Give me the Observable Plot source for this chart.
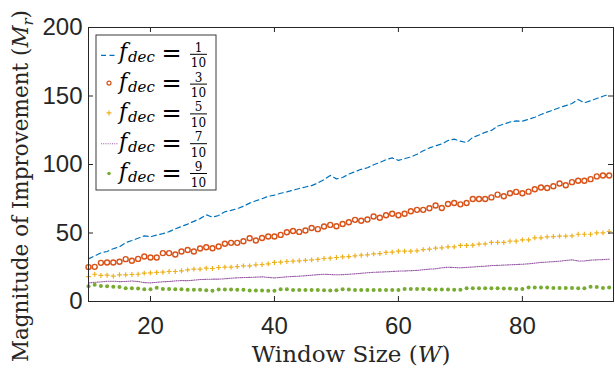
<!DOCTYPE html>
<html><head><meta charset="utf-8">
<script src="https://cdn.jsdelivr.net/npm/d3@7"></script>
<script src="https://cdn.jsdelivr.net/npm/@observablehq/plot@0.6"></script>
<style>body{margin:0;background:#fff} svg{display:block}
.serif{font-family:"DejaVu Serif","Liberation Serif",serif !important}
</style>
</head><body><div id="chart"></div>
<script>
// Window sizes (x)
const windowSize = [10,11,12,13,14,15,16,17,18,19,20,21,22,23,24,25,26,27,28,29,30,31,32,33,34,35,36,37,38,39,40,41,42,43,44,45,46,47,48,49,50,51,52,53,54,55,56,57,58,59,60,61,62,63,64,65,66,67,68,69,70,71,72,73,74,75,76,77,78,79,80,81,82,83,84,85,86,87,88,89,90,91,92,93,94];

// Magnitude of improvement, one array per f_dec
const fdec1 = [31.1,33.3,35.5,36.5,38.5,40.0,43.0,44.5,46.2,47.9,47.2,48.5,49.5,51.0,53.0,54.8,56.5,58.5,60.5,63.3,61.5,62.8,65.5,66.5,67.8,69.5,71.8,73.5,75.0,76.8,77.6,79.0,80.0,81.2,82.5,83.6,84.6,86.5,89.0,92.0,89.5,90.5,93.0,94.8,96.5,97.6,99.8,101.5,103.5,104.8,103.0,104.3,105.5,107.5,110.0,112.1,113.6,115.0,117.5,118.5,117.0,116.0,119.8,121.5,123.5,124.8,128.0,129.5,131.0,131.8,131.6,133.0,134.5,136.5,138.2,139.8,141.5,143.0,144.5,147.5,145.0,146.5,148.2,149.8,151.3];
const fdec3 = [25.1,25.3,28.2,28.5,28.5,29.0,30.9,29.7,31.1,32.8,32.1,32.1,35.3,35.3,34.3,36.5,37.6,36.5,38.7,39.6,38.9,40.1,42.1,42.8,42.8,44.0,46.2,44.5,46.3,47.4,47.4,48.6,50.6,51.5,50.8,51.8,53.7,52.8,54.7,55.9,54.9,56.6,57.9,59.6,58.9,59.8,62.0,61.1,63.0,64.0,63.0,64.0,65.9,66.9,66.9,68.1,70.1,68.2,71.2,71.9,70.9,71.9,74.8,74.8,74.8,76.0,78.0,76.8,79.0,80.0,79.0,80.2,81.9,83.2,82.9,84.1,86.1,84.9,87.1,88.1,88.1,89.3,91.3,92.0,92.0];
const fdec5 = [18.2,19.9,19.0,19.2,18.5,19.5,19.5,19.7,19.9,20.7,20.9,21.2,21.4,21.9,21.9,22.4,23.1,23.6,23.6,24.3,24.1,24.8,25.1,25.1,25.5,26.0,26.0,26.8,27.0,27.5,28.5,28.7,29.2,29.4,29.7,30.0,30.4,30.7,31.4,31.6,32.1,32.6,32.8,33.3,33.8,34.1,34.8,35.0,35.8,36.0,36.7,36.7,36.7,37.0,37.9,38.2,39.0,39.2,39.9,39.9,40.9,40.9,41.1,41.9,42.1,43.1,43.1,43.1,44.0,44.0,45.0,45.0,46.5,46.5,47.2,47.4,47.7,47.7,47.9,49.1,49.1,49.1,50.1,50.1,51.1];
const fdec7 = [13.5,14.0,14.3,14.8,14.8,14.5,14.6,15.0,14.6,13.8,13.6,14.0,14.4,14.6,15.0,15.3,15.2,15.6,16.0,16.2,16.3,16.3,16.6,17.0,17.3,17.5,17.6,17.8,18.0,17.6,17.2,17.6,18.0,18.3,18.5,18.8,19.2,19.6,19.9,19.7,19.5,19.6,19.9,20.2,20.6,21.0,21.3,21.5,21.7,21.9,22.2,22.3,22.5,22.7,23.2,23.6,23.9,24.6,25.0,24.8,24.6,24.9,25.2,25.5,25.8,26.2,26.4,26.6,26.8,27.0,27.2,27.5,28.0,28.5,28.8,29.1,29.4,30.0,30.4,29.6,29.6,30.2,30.4,30.6,30.9];
const fdec9 = [11.2,12.2,11.4,11.2,10.7,10.5,9.7,9.7,9.5,9.0,9.0,10.0,9.2,9.2,9.0,9.0,8.5,8.5,8.5,8.3,7.8,8.8,8.8,8.8,8.5,8.5,8.0,8.0,8.0,7.8,7.8,8.9,8.9,8.4,8.4,8.4,8.4,8.4,8.2,8.0,8.2,8.9,8.7,8.4,8.4,8.4,8.4,8.4,8.4,8.4,8.4,9.1,9.1,9.1,9.1,8.9,8.7,8.8,8.8,8.5,8.5,9.7,9.7,9.7,9.7,9.7,9.7,9.5,9.5,9.2,9.2,10.2,10.2,10.2,10.2,9.9,9.9,9.9,9.9,9.7,9.7,10.7,10.5,9.9,10.2];

const xTicks = [20, 40, 60, 80];
const yTicks = [0, 50, 100, 150, 200];
const legendNumerators = ["1", "3", "5", "7", "9"];
const legendDenominator = "10";

const toRows = arr => windowSize.map((w, i) => ({w, v: arr[i]}));
const s1 = toRows(fdec1), s3 = toRows(fdec3), s5 = toRows(fdec5), s7 = toRows(fdec7), s9 = toRows(fdec9);

const C = {blue: "#0072BD", orange: "#D95319", yellow: "#EDB120", purple: "#7E2F8E", green: "#77AC30", axis: "#262626"};

const chart = Plot.plot({
  width: 615, height: 375,
  marginLeft: 88, marginRight: 2, marginTop: 27, marginBottom: 74,
  style: {fontFamily: "'Liberation Sans', Arial, sans-serif", fontSize: "24px", color: C.axis, background: "white", overflow: "visible"},
  x: {domain: [10, 94.7]},
  y: {domain: [0, 200]},
  marks: [
    Plot.axisX(xTicks, {tickSize: 0, tickPadding: 15, label: null, fontSize: 24}),
    Plot.axisY(yTicks, {tickSize: 0, tickPadding: 6, label: null, fontSize: 24}),
    Plot.line(s1, {x: "w", y: "v", stroke: C.blue, strokeWidth: 1.2, strokeDasharray: "5,3.5"}),
    Plot.dot(s3, {x: "w", y: "v", r: 2.5, stroke: C.orange, strokeWidth: 1.4, fill: "none"}),
    Plot.dot(s5, {x: "w", y: "v", r: 1.7, symbol: "plus", stroke: C.yellow, strokeWidth: 1.2}),
    Plot.line(s7, {x: "w", y: "v", stroke: C.purple, strokeWidth: 1.1, strokeOpacity: 0.8, strokeDasharray: "1,1.2"}),
    Plot.dot(s9, {x: "w", y: "v", r: 2, fill: C.green, stroke: "none"}),
    Plot.tickX(xTicks, {x: d => d, insetTop: 269, stroke: C.axis}),
    Plot.tickX(xTicks, {x: d => d, insetBottom: 269, stroke: C.axis}),
    Plot.tickY(yTicks, {y: d => d, insetRight: 520, stroke: C.axis}),
    Plot.tickY(yTicks, {y: d => d, insetLeft: 520, stroke: C.axis}),
    Plot.frame({stroke: C.axis, strokeWidth: 1})
  ]
});
document.getElementById("chart").append(chart);

const svg = d3.select(chart);

// x label
const xl = svg.append("text").attr("class", "serif").attr("x", 351).attr("y", 362).attr("text-anchor", "middle")
  .style("font-size", "23px").attr("fill", C.axis);
xl.append("tspan").text("Window Size (");
xl.append("tspan").style("font-style", "italic").text("W");
xl.append("tspan").text(")");

// y label
const yl = svg.append("text").attr("class", "serif").attr("transform", "translate(28,186) rotate(-90)").attr("text-anchor", "middle")
  .style("font-size", "21.5px").attr("fill", C.axis);
yl.append("tspan").text("Magnitude of Improvement (");
yl.append("tspan").style("font-style", "italic").text("M");
yl.append("tspan").style("font-style", "italic").style("font-size", "15px").attr("dy", 5).text("r");
yl.append("tspan").attr("dy", -5).text(")");

// legend
const lg = svg.append("g");
lg.append("rect").attr("x", 96).attr("y", 35).attr("width", 120).attr("height", 155)
  .attr("fill", "white").attr("stroke", "#3a3a3a").attr("stroke-width", 1);
const colors = [C.blue, C.orange, C.yellow, C.purple, C.green];
legendNumerators.forEach((num, i) => {
  const by = 54.3 + i * 29.8;
  const g = lg.append("g");
  if (i === 0) {
    g.append("line").attr("x1", 101).attr("x2", 116).attr("y1", by + 1).attr("y2", by + 1)
      .attr("stroke", colors[i]).attr("stroke-width", 1.2).attr("stroke-dasharray", "5,3.5");
  } else if (i === 1) {
    g.append("circle").attr("cx", 109).attr("cy", by - 1).attr("r", 2).attr("fill", "none")
      .attr("stroke", colors[i]).attr("stroke-width", 1.2);
  } else if (i === 2) {
    g.append("path").attr("d", `M106.5,${by - 1}h5M109,${by - 3.5}v5`).attr("stroke", colors[i]).attr("stroke-width", 1.2);
  } else if (i === 3) {
    g.append("line").attr("x1", 101).attr("x2", 118).attr("y1", by).attr("y2", by)
      .attr("stroke", colors[i]).attr("stroke-width", 1.1).attr("stroke-opacity", 0.8).attr("stroke-dasharray", "1,1.2");
  } else {
    g.append("circle").attr("cx", 109).attr("cy", by).attr("r", 1.8).attr("fill", colors[i]);
  }
  const t = (x, y, size, txt, italic, anchor) => g.append("text").attr("class", "serif")
    .attr("x", x).attr("y", y).attr("text-anchor", anchor || "start")
    .style("font-size", size + "px").style("font-style", italic ? "italic" : "normal")
    .attr("fill", "black").text(txt);
  t(119, by + 5, 22, "f", true);
  t(128, by + 8, 15, "dec", true);
  t(171.5, by + 7, 24, "=", false, "middle");
  g.append("line").attr("x1", 190).attr("x2", 207).attr("y1", by).attr("y2", by).attr("stroke", "black").attr("stroke-width", 1);
  t(198.5, by - 2.5, 12, num, false, "middle");
  t(198.5, by + 13, 12, legendDenominator, false, "middle");
});
</script>
</body></html>
